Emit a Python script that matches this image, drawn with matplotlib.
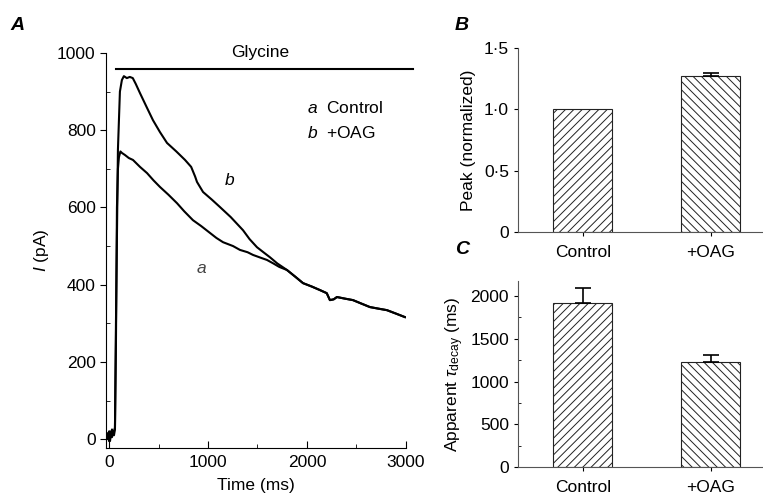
import matplotlib
matplotlib.use('Agg')
import matplotlib.pyplot as plt
from matplotlib.ticker import MultipleLocator

plt.rcParams['font.family'] = ['Liberation Sans', 'DejaVu Sans']
plt.rcParams['mathtext.fontset'] = 'custom'
plt.rcParams['mathtext.rm'] = 'Liberation Sans'
plt.rcParams['mathtext.it'] = 'Liberation Sans:italic'
plt.rcParams['hatch.color'] = '#555555'
plt.rcParams['hatch.linewidth'] = 0.7

FS = 12.5

# trace a (control)
ctrl_t = [-30, -20, -10, 0, 10, 20, 30, 40, 50, 60, 70, 80, 90, 100, 115, 131, 160,
          200, 242, 313, 384, 450, 515, 600, 687, 760, 848, 930, 1020, 1085, 1152,
          1253, 1323, 1400, 1455, 1530, 1596, 1660, 1720, 1798, 1880, 1960, 2050,
          2131, 2200, 2232, 2270, 2303, 2380, 2465, 2550, 2636, 2720, 2808, 2900, 2990]
ctrl_i = [10, 0, 15, -5, 20, 5, 25, 10, 20, 30, 250, 600, 700, 730, 745, 741, 736,
          728, 723, 705, 689, 670, 653, 633, 611, 590, 567, 552, 534, 521, 510,
          500, 490, 484, 477, 470, 464, 455, 446, 438, 421, 404, 395,
          386, 378, 360, 362, 368, 364, 360, 351, 342, 338, 334, 325, 316]

# trace b (+OAG)
oag_t = [-30, -20, -10, 0, 10, 20, 30, 40, 50, 60, 70, 90, 110, 130, 150, 180, 210,
         240, 270, 313, 380, 444, 515, 586, 680, 768, 830, 870, 889, 950, 1040, 1121,
         1230, 1354, 1420, 1495, 1560, 1626, 1700, 1798, 1880, 1960, 2050,
         2131, 2200, 2232, 2270, 2303, 2380, 2465, 2550, 2636, 2720, 2808, 2900, 2990]
oag_i = [5, 15, 0, 20, -5, 15, 5, 20, 10, 25, 300, 750, 900, 930, 940, 935, 938,
         935, 920, 896, 860, 826, 795, 767, 745, 723, 705, 680, 666, 640, 620, 601,
         575, 541, 518, 497, 484, 471, 455, 438, 421, 404, 395,
         386, 378, 360, 362, 368, 364, 360, 351, 342, 338, 334, 325, 316]

glycine_on = [70, 3070]
glycine_level = 958

groups = ['Control', '+OAG']
peak_norm = [1.0, 1.27]
peak_err = [0.0, 0.03]
tau_decay = [1918, 1228]
tau_err = [176, 82]
hatches = ['////', '\\\\\\\\']

fig = plt.figure(figsize=(7.63, 4.98), dpi=100)

# ---- panel A: current traces
axA = fig.add_axes([0.139, 0.1004, 0.393, 0.7932])
axA.plot(ctrl_t, ctrl_i, color='black', lw=1.5)
axA.plot(oag_t, oag_i, color='black', lw=1.5)
axA.plot(glycine_on, [glycine_level, glycine_level], color='black', lw=1.5, clip_on=False)
axA.text(1525, 982, 'Glycine', ha='center', va='bottom', fontsize=FS)
axA.text(2000, 857, r'$a$  Control', ha='left', va='center', fontsize=FS)
axA.text(2000, 793, r'$b$  +OAG', ha='left', va='center', fontsize=FS)
axA.text(1222, 671, r'$b$', ha='center', va='center', fontsize=FS)
axA.text(939, 443, r'$a$', ha='center', va='center', fontsize=FS, color='#444444')
axA.set_xlim(-30, 3000)
axA.set_ylim(-23, 1000)
axA.spines['top'].set_visible(False)
axA.spines['right'].set_visible(False)
axA.xaxis.set_major_locator(MultipleLocator(1000))
axA.xaxis.set_minor_locator(MultipleLocator(500))
axA.yaxis.set_major_locator(MultipleLocator(200))
axA.yaxis.set_minor_locator(MultipleLocator(100))
axA.tick_params(axis='x', which='both', direction='in', labelsize=FS)
axA.tick_params(axis='x', which='major', length=5, pad=5)
axA.tick_params(axis='x', which='minor', length=3)
axA.tick_params(axis='y', which='major', direction='out', length=4, labelsize=FS)
axA.tick_params(axis='y', which='minor', direction='in', length=3)
axA.set_xlabel('Time (ms)', fontsize=FS, labelpad=6)
axA.set_ylabel(r'$I$ (pA)', fontsize=FS, labelpad=4)
fig.text(0.013, 0.94, 'A', fontsize=14, fontweight='bold', fontstyle='italic')

# ---- panels B and C: bar charts
axB = fig.add_axes([0.679, 0.534, 0.32, 0.3695])
axC = fig.add_axes([0.679, 0.0622, 0.32, 0.3735])
for ax, vals, errs in [(axB, peak_norm, peak_err), (axC, tau_decay, tau_err)]:
    for i in range(len(groups)):
        ax.bar(i, vals[i], width=0.46, color='white', edgecolor='#222222',
               linewidth=0.8, hatch=hatches[i])
        if errs[i] > 0:
            ax.errorbar(i, vals[i], yerr=[[0], [errs[i]]], color='black',
                        capsize=6, elinewidth=1.2, capthick=1.2)
    ax.set_xlim(-0.504, 1.40)
    ax.set_xticks(range(len(groups)))
    ax.set_xticklabels(groups)
    ax.spines['top'].set_visible(False)
    ax.spines['right'].set_visible(False)
    ax.spines['left'].set_color('#555555')
    ax.spines['bottom'].set_color('#555555')
    ax.tick_params(axis='x', direction='out', length=3, labelsize=FS, pad=6)
    ax.tick_params(axis='y', direction='out', length=3, labelsize=FS)

axB.set_ylim(0, 1.5)
axB.set_yticks([0, 0.5, 1.0, 1.5])
axB.set_yticklabels(['0', '0·5', '1·0', '1·5'])
axB.set_ylabel('Peak (normalized)', fontsize=FS, labelpad=6)
fig.text(0.596, 0.94, 'B', fontsize=14, fontweight='bold', fontstyle='italic')

axC.set_ylim(0, 2175)
axC.yaxis.set_major_locator(MultipleLocator(500))
axC.yaxis.set_minor_locator(MultipleLocator(250))
axC.tick_params(axis='y', which='minor', direction='in', length=2)
axC.set_ylabel(r'Apparent $\tau_{\mathrm{decay}}$ (ms)', fontsize=FS, labelpad=3)
fig.text(0.596, 0.49, 'C', fontsize=14, fontweight='bold', fontstyle='italic')

fig.savefig('out.png', dpi=100)
